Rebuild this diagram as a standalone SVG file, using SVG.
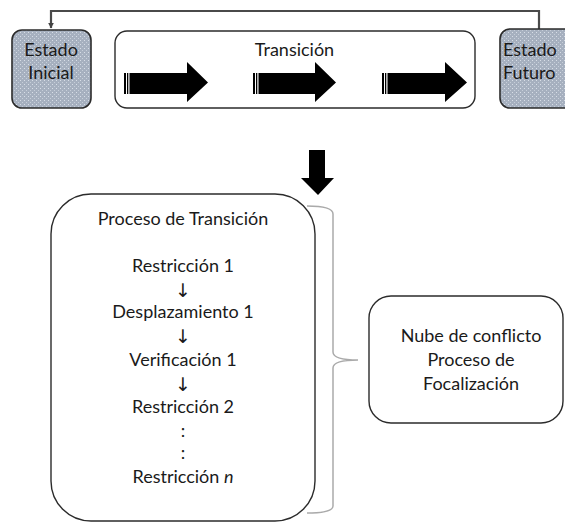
<svg xmlns="http://www.w3.org/2000/svg" width="565" height="523" viewBox="0 0 565 523">
  <defs>
    <pattern id="dots" width="4" height="4" patternUnits="userSpaceOnUse">
      <rect width="4" height="4" fill="#a6b0bf"/>
      <rect x="0" y="0" width="1" height="1" fill="#d8dee7"/>
      <rect x="2" y="2" width="1" height="1" fill="#c6ced9"/>
    </pattern>
    <marker id="ah" viewBox="0 0 10 10" refX="9" refY="5" markerWidth="6" markerHeight="6" orient="auto" markerUnits="userSpaceOnUse">
      <path d="M0,0 L10,5 L0,10 Z" fill="#444"/>
    </marker>
    <marker id="ahs" viewBox="0 0 10 10" refX="9" refY="5" markerWidth="5" markerHeight="5" orient="auto" markerUnits="userSpaceOnUse">
      <path d="M0,0 L10,5 L0,10 Z" fill="#333"/>
    </marker>
  </defs>
  <style>
    text { font-family: Lato, "Liberation Sans", sans-serif; fill: #1a1a1a; }
    .t18 { font-size: 18px; }
    .state { fill: url(#dots); stroke: #2b2b2b; stroke-width: 1.6; }
    .box { fill: #fff; stroke: #2b2b2b; stroke-width: 1.4; }
    .blk { fill: #000; }
    .conn { fill: none; stroke: #4a4a4a; stroke-width: 2.2; }
    .loop { fill: none; stroke: #a0a0a0; stroke-width: 1.5; }
    .brace { fill: none; stroke: #aaa; stroke-width: 1.5; }
    .arr { font-family: "DejaVu Sans", sans-serif; font-size: 19px; fill: #1a1a1a; }
  </style>

  <g id="connectors">
    <path class="conn" d="M539,30 V11 H51 V28" marker-end="url(#ah)"/>
    <path class="loop" d="M131,359 H101 V266 H133" marker-end="url(#ahs)"/>
    <path class="brace" d="M307,206 Q333,206 333,214 V352 Q333,360 358,360 Q333,360 333,368 V506 Q333,513 307,513"/>
    <path class="blk" d="M309,150 H325 V178 H334 L318,195 L301,178 H309 Z"/>
  </g>

  <g id="estado-inicial">
    <rect class="state" x="12" y="30" width="79" height="78" rx="10"/>
    <text class="t18" x="51" y="56" text-anchor="middle">Estado</text>
    <text class="t18" x="51" y="79" text-anchor="middle">Inicial</text>
  </g>

  <g id="transicion">
    <rect class="box" x="115" y="31" width="360" height="77" rx="12"/>
    <text class="t18" x="294.5" y="56" text-anchor="middle">Transición</text>
    <g class="blk">
      <rect x="124" y="73" width="2" height="21"/>
      <rect x="127" y="73" width="1.3" height="21"/>
      <path d="M129.5,73 H187 V62 L208,82.5 L187,102 V94 H129.5 Z"/>
      <rect x="253" y="73" width="2" height="21"/>
      <rect x="256" y="73" width="1.3" height="21"/>
      <path d="M258.5,73 H315 V62 L336,82.5 L315,102 V94 H258.5 Z"/>
      <rect x="382" y="73" width="2" height="21"/>
      <rect x="385" y="73" width="1.3" height="21"/>
      <path d="M387.5,73 H445 V62 L467,82.5 L445,102 V94 H387.5 Z"/>
    </g>
  </g>

  <g id="estado-futuro">
    <rect class="state" x="500" y="29" width="80" height="79" rx="10"/>
    <text class="t18" x="503" y="56">Estado</text>
    <text class="t18" x="503" y="79">Futuro</text>
  </g>

  <g id="proceso-transicion">
    <rect class="box" x="51" y="194" width="264" height="327" rx="40"/>
    <text class="t18" x="183" y="225" text-anchor="middle">Proceso de Transición</text>
    <text class="t18" x="183" y="272" text-anchor="middle">Restricción 1</text>
    <text class="arr" x="183" y="297" text-anchor="middle">↓</text>
    <text class="t18" x="183" y="318" text-anchor="middle">Desplazamiento 1</text>
    <text class="arr" x="183" y="343" text-anchor="middle">↓</text>
    <text class="t18" x="183" y="366" text-anchor="middle">Verificación 1</text>
    <text class="arr" x="183" y="391" text-anchor="middle">↓</text>
    <text class="t18" x="183" y="413" text-anchor="middle">Restricción 2</text>
    <text class="t18" x="183" y="437" text-anchor="middle">:</text>
    <text class="t18" x="183" y="459" text-anchor="middle">:</text>
    <text class="t18" x="183" y="483" text-anchor="middle">Restricción <tspan font-style="italic">n</tspan></text>
  </g>

  <g id="nube-conflicto">
    <rect class="box" x="369" y="296" width="194" height="127" rx="22"/>
    <text class="t18" x="471" y="342" text-anchor="middle">Nube de conflicto</text>
    <text class="t18" x="471" y="366" text-anchor="middle">Proceso de</text>
    <text class="t18" x="471" y="390" text-anchor="middle">Focalización</text>
  </g>
</svg>
